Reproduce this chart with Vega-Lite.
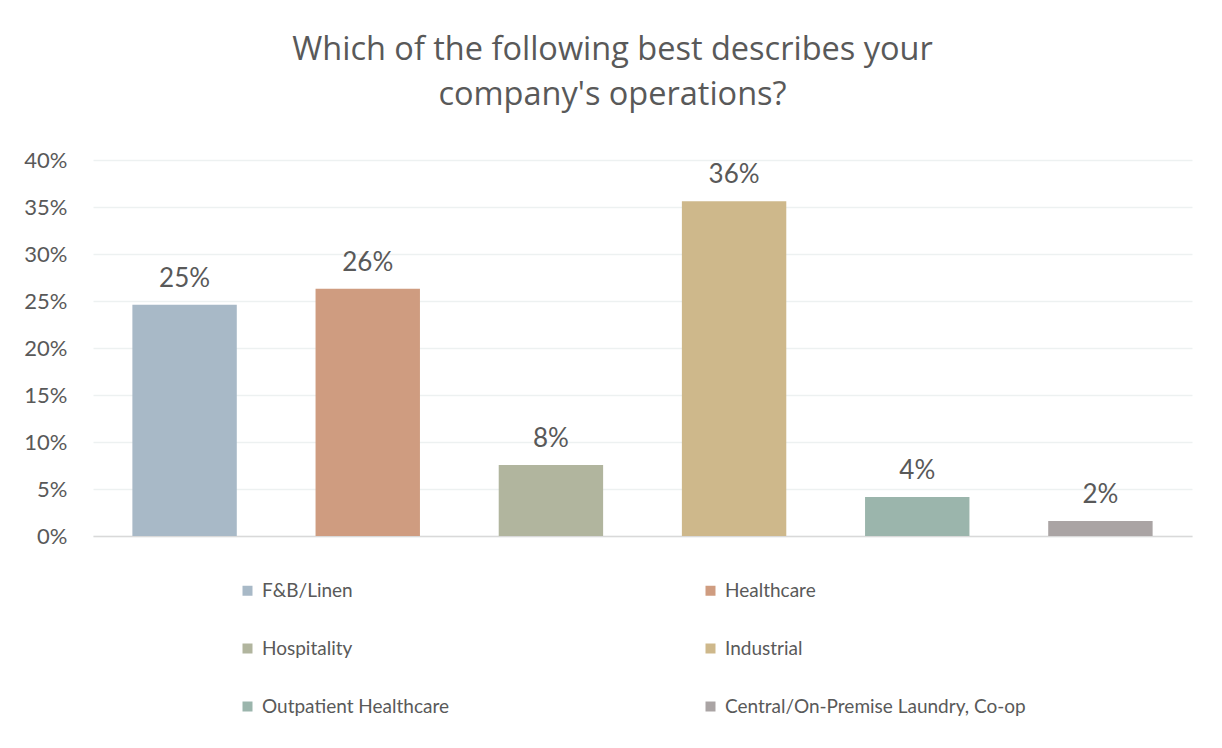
{
  "$schema": "https://vega.github.io/schema/vega-lite/v6.json",
  "width": 1099,
  "height": 376,
  "autosize": {"type": "none"},
  "padding": {"left": 93, "top": 160, "right": 30, "bottom": 212},
  "background": "white",
  "title": {
    "text": ["Which of the following best describes your", "company's operations?"],
    "font": "Open Sans",
    "fontSize": 32.5,
    "fontWeight": "normal",
    "color": "#595959",
    "anchor": "middle",
    "dx": -30,
    "offset": 38,
    "lineHeight": 45
  },
  "data": {
    "values": [
      {"category": "F&B/Linen", "value": 0.246},
      {"category": "Healthcare", "value": 0.263},
      {"category": "Hospitality", "value": 0.0755},
      {"category": "Industrial", "value": 0.356},
      {"category": "Outpatient Healthcare", "value": 0.0415},
      {"category": "Central/On-Premise Laundry, Co-op", "value": 0.016}
    ]
  },
  "config": {
    "view": {"stroke": null},
    "font": "Lato"
  },
  "encoding": {
    "x": {
      "field": "category",
      "type": "nominal",
      "sort": null,
      "scale": {"paddingInner": 0.43, "paddingOuter": 0.215},
      "axis": {
        "labels": false,
        "ticks": false,
        "title": null,
        "domainColor": "#D9D9D9",
        "domainWidth": 1.5
      }
    },
    "y": {
      "field": "value",
      "type": "quantitative",
      "scale": {"domain": [0, 0.4]},
      "axis": {
        "format": ".0%",
        "values": [0, 0.05, 0.1, 0.15, 0.2, 0.25, 0.3, 0.35, 0.4],
        "title": null,
        "domain": false,
        "ticks": false,
        "tickSize": 0,
        "labelPadding": 26,
        "labelFontSize": 22,
        "labelColor": "#595959",
        "labelFont": "Lato",
        "gridColor": "#EDF1F1",
        "gridWidth": 1.5
      }
    }
  },
  "layer": [
    {
      "mark": {"type": "bar"},
      "encoding": {
        "color": {
          "field": "category",
          "type": "nominal",
          "sort": null,
          "scale": {
            "domain": ["F&B/Linen", "Healthcare", "Hospitality", "Industrial", "Outpatient Healthcare", "Central/On-Premise Laundry, Co-op"],
            "range": ["#A8B9C7", "#CF9C80", "#B1B59E", "#CEB88B", "#9BB5AC", "#AAA4A4"]
          },
          "legend": {
            "title": null,
            "orient": "none",
            "legendX": 145,
            "legendY": 421,
            "direction": "horizontal",
            "columns": 2,
            "columnPadding": 252,
            "rowPadding": 38,
            "padding": 0,
            "symbolType": "square",
            "symbolSize": 100,
            "symbolStrokeWidth": 0,
            "labelFontSize": 19,
            "labelFont": "Lato",
            "labelColor": "#595959",
            "labelOffset": 5,
            "labelLimit": 400
          }
        }
      }
    },
    {
      "mark": {"type": "text", "baseline": "alphabetic", "dy": -18, "fontSize": 26, "color": "#595959", "font": "Lato"},
      "encoding": {
        "text": {"field": "value", "type": "quantitative", "format": ".0%"}
      }
    }
  ]
}
